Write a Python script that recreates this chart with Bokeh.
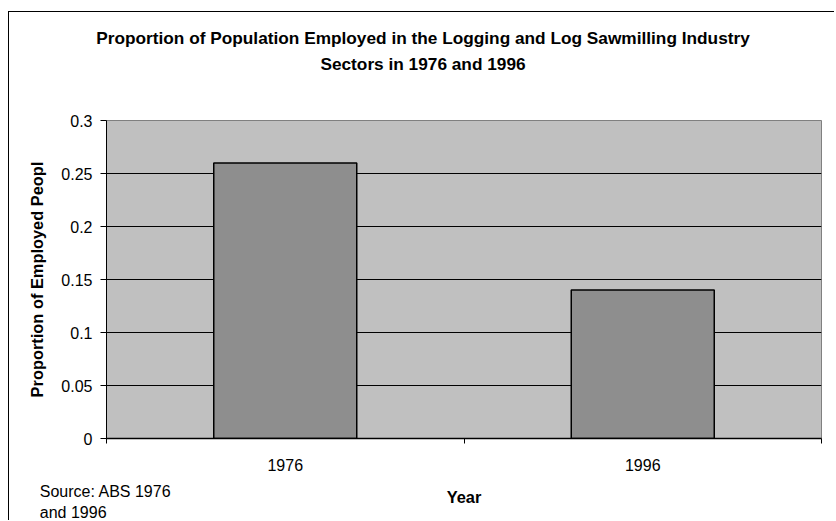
from bokeh.plotting import figure
from bokeh.models import FixedTicker, Label, ColumnDataSource, Range1d
from bokeh.embed import file_html
from bokeh.resources import INLINE

years = ["1976", "1996"]
proportions = [0.26, 0.14]
y_ticks = [0, 0.05, 0.1, 0.15, 0.2, 0.25, 0.3]
y_tick_labels = ["0", "0.05", "0.1", "0.15", "0.2", "0.25", "0.3"]

title_lines = ["Proportion of Population Employed in the Logging and Log Sawmilling Industry",
               "Sectors in 1976 and 1996"]
source_lines = ["Source: ABS 1976", "and 1996"]

W, H = 826, 509
FRAME_L = 106          # page x of the plot frame's left edge
# reference y (page) of each stacked label slot in the "above" panel
SLOT_REF = [127, 107, 87, 68.5]

FONT = "Liberation Sans"

p = figure(width=W, height=H, output_backend="svg", toolbar_location=None,
           x_range=Range1d(0, len(years)), y_range=Range1d(0, 0.3),
           min_border_left=97, min_border_right=14, min_border_top=108, min_border_bottom=83)
p.styles = {"border-top": "1px solid black", "border-left": "1px solid black",
            "margin-top": "11px", "margin-left": "8px"}

p.background_fill_color = "#c0c0c0"
p.border_fill_color = "white"
p.outline_line_color = "#808080"
p.outline_line_width = 1

xs = [i + 0.5 for i in range(len(years))]
src = ColumnDataSource(dict(x=xs, top=proportions))
p.vbar(x="x", top="top", bottom=0, width=0.4, source=src,
       fill_color="#8e8e8e", line_color="black", line_width=1.5)

# y axis
p.yaxis.ticker = FixedTicker(ticks=y_ticks)
p.yaxis.major_label_overrides = {t: l for t, l in zip(y_ticks, y_tick_labels)}
p.yaxis.minor_tick_line_color = None
p.yaxis.major_tick_in = 0
p.yaxis.major_tick_out = 6
p.yaxis.major_tick_line_color = "black"
p.yaxis.axis_line_color = "black"
p.yaxis.major_label_text_font = FONT
p.yaxis.major_label_text_font_size = "16px"
p.yaxis.major_label_text_color = "black"
p.yaxis.major_label_standoff = 8
p.yaxis.axis_label = "Proportion of Employed Peopl"
p.yaxis.axis_label_text_font = FONT
p.yaxis.axis_label_text_font_style = "bold"
p.yaxis.axis_label_text_font_size = "16.4px"
p.yaxis.axis_label_text_color = "black"
p.yaxis.axis_label_standoff = 12

# x axis
p.xaxis.ticker = FixedTicker(ticks=xs, minor_ticks=list(range(len(years) + 1)))
p.xaxis.major_label_overrides = {x: y for x, y in zip(xs, years)}
p.xaxis.major_tick_line_color = None
p.xaxis.minor_tick_line_color = "black"
p.xaxis.minor_tick_in = 0
p.xaxis.minor_tick_out = 5
p.xaxis.axis_line_color = "black"
p.xaxis.axis_line_width = 1.5
p.xaxis.major_label_text_font = FONT
p.xaxis.major_label_text_font_size = "16px"
p.xaxis.major_label_text_color = "black"
p.xaxis.major_label_standoff = 14
p.xaxis.axis_label = "Year"
p.xaxis.axis_label_text_font = FONT
p.xaxis.axis_label_text_font_style = "bold"
p.xaxis.axis_label_text_font_size = "16.4px"
p.xaxis.axis_label_text_color = "black"
p.xaxis.axis_label_standoff = 14

p.xgrid.grid_line_color = None
p.ygrid.grid_line_color = "black"
p.ygrid.grid_line_width = 1

def label(text, px, baseline_y, slot, align="center", bold=False, size="16px"):
    p.add_layout(Label(x=px - FRAME_L, y=SLOT_REF[slot] - baseline_y, x_units="screen", y_units="screen",
                       text=text, text_align=align, text_baseline="alphabetic",
                       text_font=FONT, text_font_size=size,
                       text_font_style="bold" if bold else "normal", text_color="black"), "above")

label(title_lines[0], 422.5, 44, 0, bold=True, size="17.25px")
label(title_lines[1], 422.5, 70, 1, bold=True, size="17.25px")
label(source_lines[0], 39.3, 497.5, 2, align="left")
label(source_lines[1], 39.3, 517, 3, align="left")

open("out.html", "w").write(file_html(p, INLINE))
